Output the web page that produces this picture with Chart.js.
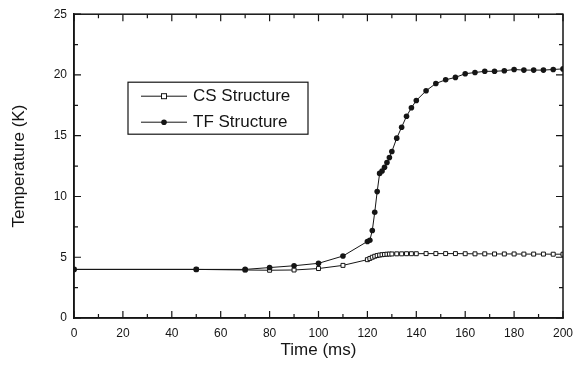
<!DOCTYPE html>
<html>
<head>
<meta charset="utf-8">
<script src="https://cdn.jsdelivr.net/npm/chart.js@4.4.1/dist/chart.umd.min.js"></script>
<style>
  html, body { margin: 0; padding: 0; background: #fff; }
  #wrap { width: 583px; height: 371px; }
</style>
</head>
<body>
<div id="wrap"><canvas id="tempChart"></canvas></div>
<script>
// Time (ms) and temperature (K)
const csTime = [0, 50, 70, 80, 90, 100, 110, 120, 121, 122, 123, 124, 125, 126, 127, 128, 129, 130, 132, 134, 136, 138, 140,
  144, 148, 152, 156, 160, 164, 168, 172, 176, 180, 184, 188, 192, 196, 200];
const csTemp = [4.0, 4.0, 3.95, 3.93, 3.95, 4.07, 4.33, 4.8, 4.9, 5.0, 5.08, 5.14, 5.18, 5.21, 5.23, 5.25, 5.26, 5.27, 5.28, 5.28, 5.29, 5.29, 5.29,
  5.3, 5.3, 5.3, 5.3, 5.29, 5.28, 5.28, 5.27, 5.27, 5.27, 5.26, 5.26, 5.26, 5.25, 5.25];

const tfTime = [0, 50, 70, 80, 90, 100, 110, 120, 121, 122, 123, 124, 125, 126, 127, 128, 129, 130, 132, 134, 136, 138, 140,
  144, 148, 152, 156, 160, 164, 168, 172, 176, 180, 184, 188, 192, 196, 200];
const tfTemp = [4.0, 4.0, 4.0, 4.15, 4.3, 4.5, 5.1, 6.3, 6.4, 7.2, 8.7, 10.4, 11.9, 12.1, 12.4, 12.8, 13.2, 13.7, 14.8, 15.7, 16.6, 17.3, 17.9,
  18.7, 19.3, 19.6, 19.8, 20.1, 20.2, 20.3, 20.3, 20.35, 20.45, 20.4, 20.4, 20.4, 20.45, 20.5];

const seriesNames = ["CS Structure", "TF Structure"];
const xTitle = "Time (ms)";
const yTitle = "Temperature (K)";

const ink = "#151515";
const fontFamily = "'Liberation Sans', Arial, sans-serif";

const toPoints = (xs, ys) => xs.map((t, i) => ({ x: t, y: ys[i] }));

// frame on all four sides + inward major/minor ticks
const frameTicks = {
  id: "frameTicks",
  afterDraw(chart) {
    const { ctx, chartArea: a, scales: { x, y } } = chart;
    ctx.save();
    ctx.strokeStyle = ink;
    ctx.lineWidth = 1.5;
    ctx.strokeRect(a.left, a.top, a.right - a.left, a.bottom - a.top);
    ctx.lineWidth = 1.2;
    ctx.beginPath();
    for (let v = 0; v <= 200; v += 10) {
      const px = x.getPixelForValue(v);
      const len = v % 20 === 0 ? 7 : 4;
      ctx.moveTo(px, a.bottom); ctx.lineTo(px, a.bottom - len);
      ctx.moveTo(px, a.top); ctx.lineTo(px, a.top + len);
    }
    for (let v = 0; v <= 25; v += 2.5) {
      const py = y.getPixelForValue(v);
      const len = v % 5 === 0 ? 7 : 4;
      ctx.moveTo(a.left, py); ctx.lineTo(a.left + len, py);
      ctx.moveTo(a.right, py); ctx.lineTo(a.right - len, py);
    }
    ctx.stroke();
    ctx.restore();
  }
};

// boxed legend inside the plot, like the original
const boxLegend = {
  id: "boxLegend",
  afterDraw(chart) {
    const { ctx, chartArea: a } = chart;
    const left = a.left + 54, top = a.top + 68, w = 180, h = 52;
    ctx.save();
    ctx.strokeStyle = ink;
    ctx.lineWidth = 1.2;
    ctx.strokeRect(left, top, w, h);
    ctx.font = "17px " + fontFamily;
    ctx.fillStyle = ink;
    ctx.textBaseline = "middle";
    chart.data.datasets.forEach((ds, i) => {
      const cy = top + 14 + i * 26;
      ctx.lineWidth = 1;
      ctx.beginPath();
      ctx.moveTo(left + 13, cy); ctx.lineTo(left + 59, cy);
      ctx.stroke();
      const cx = left + 36;
      if (ds.pointStyle === "rect") {
        ctx.fillStyle = "#fff";
        ctx.fillRect(cx - 2.5, cy - 2.5, 5, 5);
        ctx.strokeRect(cx - 2.5, cy - 2.5, 5, 5);
      } else {
        ctx.fillStyle = ink;
        ctx.beginPath(); ctx.arc(cx, cy, 2.8, 0, Math.PI * 2); ctx.fill();
      }
      ctx.fillStyle = ink;
      ctx.fillText(ds.label, left + 65, cy);
    });
    ctx.restore();
  }
};

new Chart(document.getElementById("tempChart"), {
  type: "line",
  data: {
    datasets: [
      {
        label: seriesNames[0],
        data: toPoints(csTime, csTemp),
        order: 1,
        borderColor: ink,
        borderWidth: 1,
        pointStyle: "rect",
        pointRadius: 2.8,
        pointBackgroundColor: "#fff",
        pointBorderColor: ink,
        pointBorderWidth: 1,
        tension: 0
      },
      {
        label: seriesNames[1],
        data: toPoints(tfTime, tfTemp),
        order: 0,
        borderColor: ink,
        borderWidth: 1,
        pointStyle: "circle",
        pointRadius: 2.8,
        pointBackgroundColor: ink,
        pointBorderColor: ink,
        pointBorderWidth: 0,
        tension: 0
      }
    ]
  },
  options: {
    responsive: true,
    maintainAspectRatio: false,
    animation: false,
    layout: { padding: { top: 13, right: 20, left: 0, bottom: 0 } },
    plugins: { legend: { display: false }, tooltip: { enabled: false } },
    scales: {
      x: {
        type: "linear",
        min: 0, max: 200,
        ticks: { stepSize: 20, padding: 8, color: ink, font: { family: fontFamily, size: 12 }, maxRotation: 0 },
        grid: { drawOnChartArea: false, drawTicks: false },
        border: { color: ink, width: 1.5 },
        title: { display: true, text: xTitle, color: ink, font: { family: fontFamily, size: 17 }, padding: { top: 0, bottom: 10 } },
        afterFit(scale) { scale.height = 53; }
      },
      y: {
        min: 0, max: 25,
        ticks: { stepSize: 5, padding: 7, color: ink, font: { family: fontFamily, size: 12 } },
        grid: { drawOnChartArea: false, drawTicks: false },
        border: { color: ink, width: 1.5 },
        title: { display: true, text: yTitle, color: ink, font: { family: fontFamily, size: 17 }, padding: { top: 9, bottom: 0 } },
        afterFit(scale) { scale.width = 74; }
      }
    }
  },
  plugins: [frameTicks, boxLegend]
});
</script>
</body>
</html>
